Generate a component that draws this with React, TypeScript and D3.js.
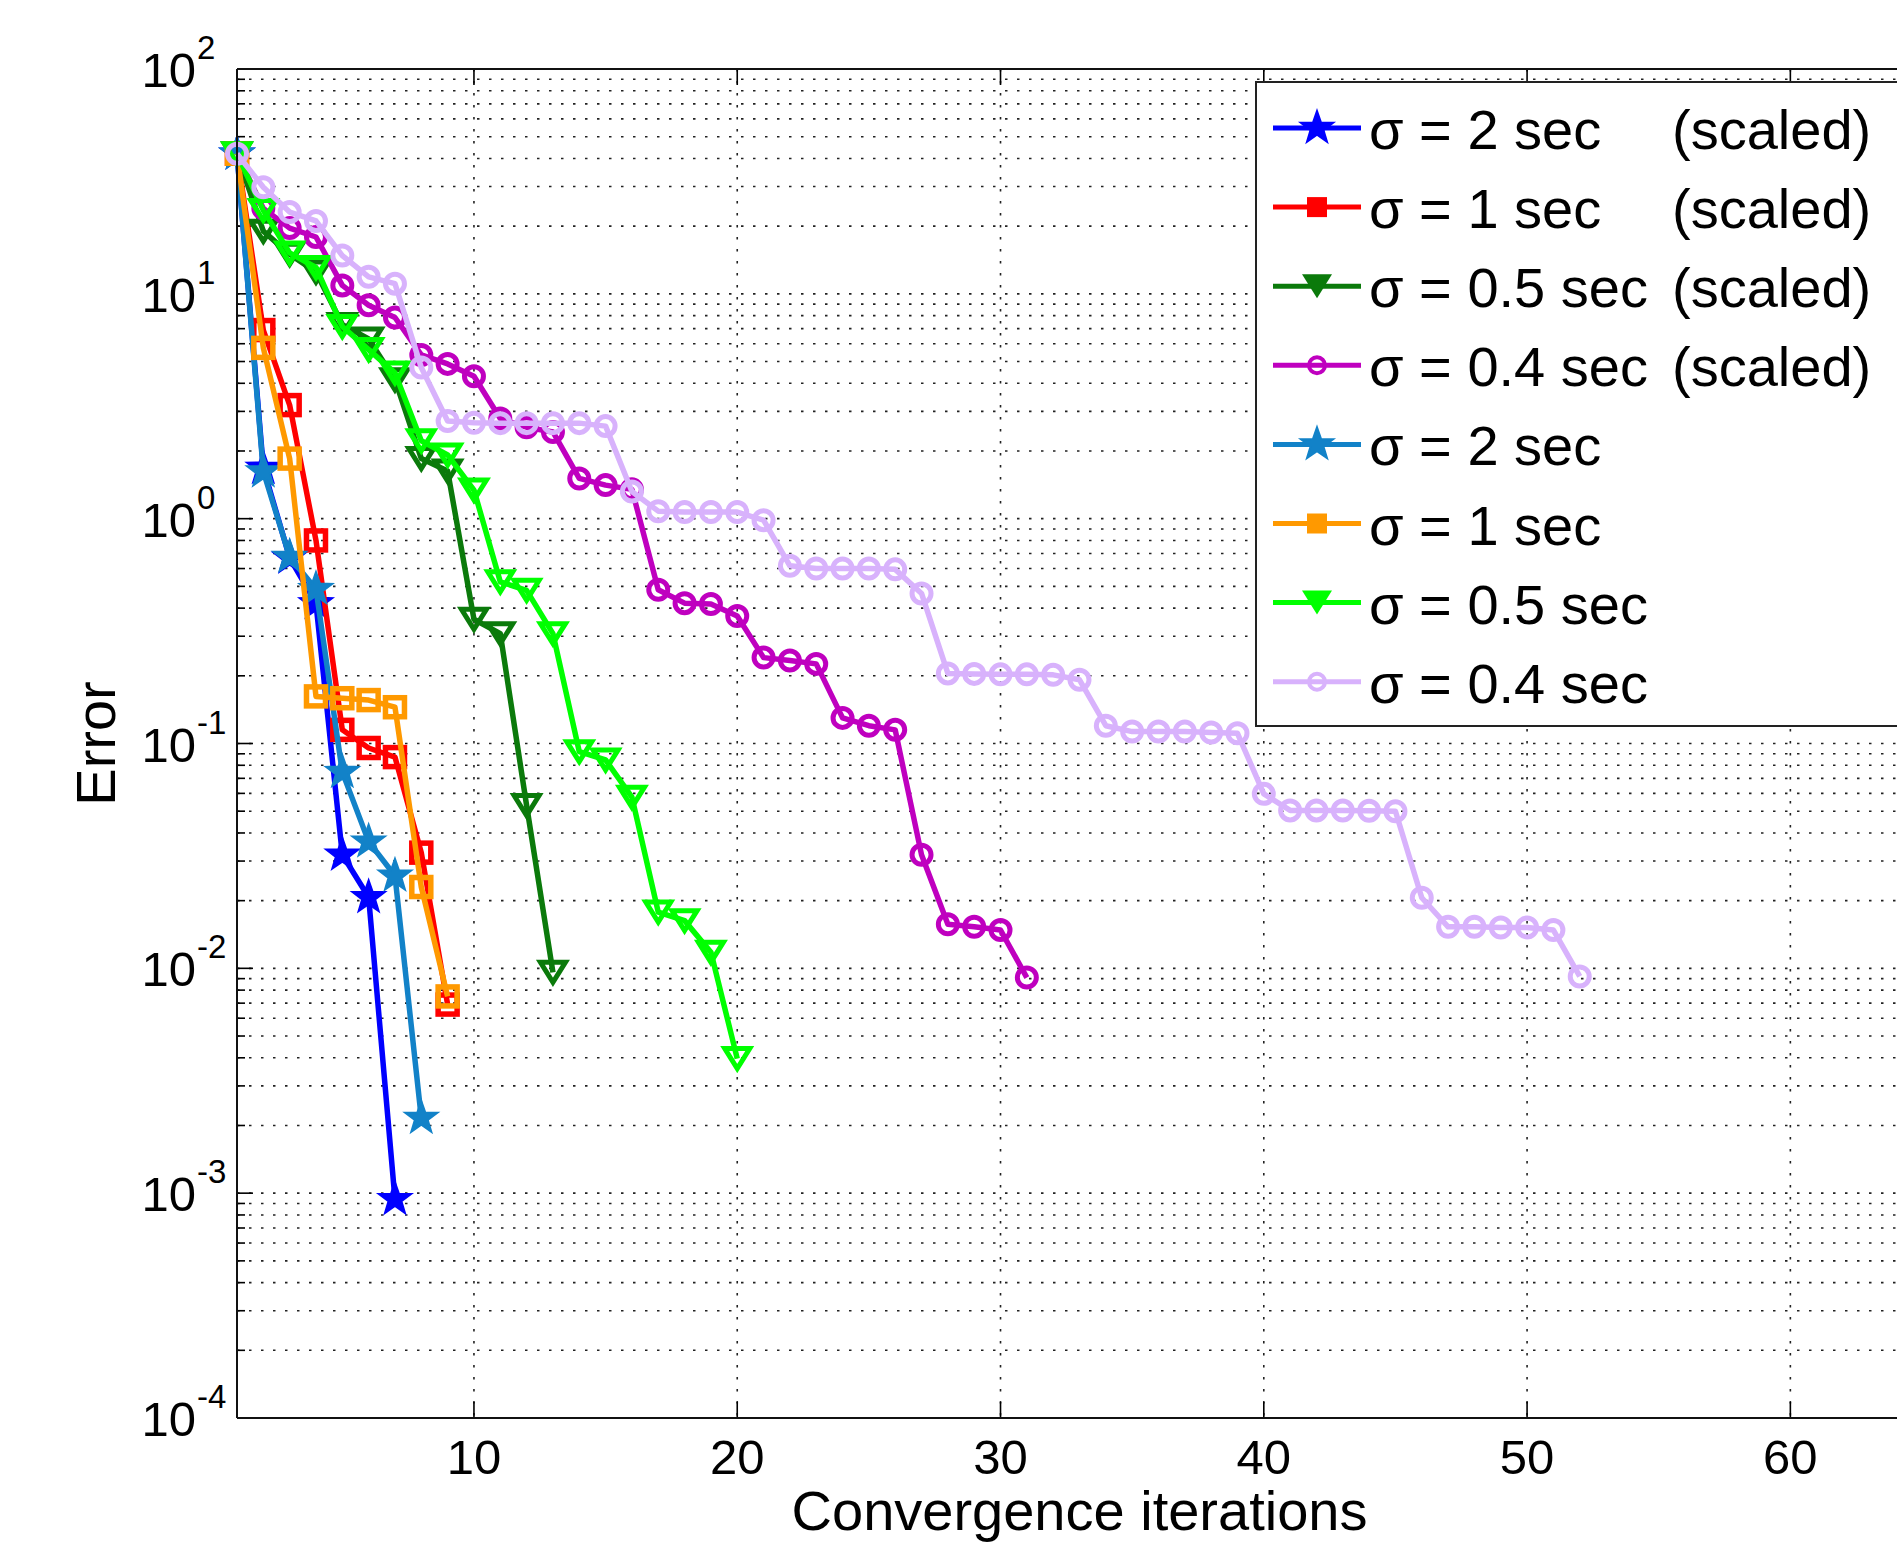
import React from "react";
import * as d3 from "d3";

// error per convergence iteration (iteration 1..n)
const blueScaled = [42, 1.68, 0.67, 0.42, 0.032, 0.0207, 0.00094];
const redScaled = [42, 6.9, 3.2, 0.8, 0.115, 0.0955, 0.087, 0.0327, 0.0069];
const darkGreenScaled = [42, 19, 15, 12.5, 7.3, 6.3, 4.15, 1.85, 1.63, 0.357, 0.308, 0.053, 0.0096];
const purpleScaled = [
  42, 24, 19.6, 17.9, 10.9, 8.9, 7.85, 5.35, 4.88, 4.3, 2.79, 2.55, 2.43, 1.51, 1.41, 1.35,
  0.483, 0.421, 0.417, 0.369, 0.241, 0.234, 0.226, 0.13, 0.12, 0.115, 0.032, 0.0157, 0.0153,
  0.0148, 0.0091,
];
const steelBlue = [42, 1.62, 0.676, 0.486, 0.0746, 0.0366, 0.0258, 0.00216];
const orange = [42, 5.75, 1.85, 0.162, 0.159, 0.156, 0.145, 0.023, 0.0075];
const lightGreen = [
  42, 23.5, 15.2, 13.1, 7.16, 5.65, 4.45, 2.22, 1.92, 1.34, 0.524, 0.48, 0.308, 0.092, 0.0845,
  0.0577, 0.0178, 0.0163, 0.0118, 0.00397,
];
const lavender = [
  42, 29.8, 23.1, 21.1, 14.8, 11.9, 11.1, 4.7, 2.72, 2.67, 2.66, 2.66, 2.66, 2.66, 2.58, 1.32,
  1.08, 1.07, 1.07, 1.07, 0.985, 0.617, 0.6, 0.6, 0.6, 0.595, 0.465, 0.205, 0.204, 0.203, 0.203,
  0.202, 0.192, 0.12, 0.113, 0.113, 0.113, 0.112, 0.111, 0.0597, 0.0504, 0.0504, 0.0503, 0.0502,
  0.05, 0.0206, 0.0153, 0.0153, 0.0152, 0.0152, 0.0148, 0.0092,
];

const seriesNames = [
  "σ = 2 sec",
  "σ = 1 sec",
  "σ = 0.5 sec",
  "σ = 0.4 sec",
  "σ = 2 sec",
  "σ = 1 sec",
  "σ = 0.5 sec",
  "σ = 0.4 sec",
];
const scaledFlags = [true, true, true, true, false, false, false, false];
const seriesValues = [blueScaled, redScaled, darkGreenScaled, purpleScaled, steelBlue, orange, lightGreen, lavender];
const seriesColors = ["#0000ff", "#ff0000", "#0b7a0b", "#bf00bf", "#1282c8", "#ff9900", "#00ff00", "#d8b2fc"];
const seriesMarkers = ["star", "square", "tri", "circle", "star", "square", "tri", "circle"];

const xDomain = [1, 65];
const yDomain = [1e-4, 1e2];

const W = 1897;
const H = 1543;
const FONT = "'Liberation Sans', Arial, Helvetica, sans-serif";

const starPath = (R: number) => {
  const r = R * 0.4;
  const pts: string[] = [];
  for (let i = 0; i < 10; i++) {
    const a = -Math.PI / 2 + (i * Math.PI) / 5;
    const rad = i % 2 === 0 ? R : r;
    pts.push(`${(rad * Math.cos(a)).toFixed(2)},${(rad * Math.sin(a)).toFixed(2)}`);
  }
  return "M" + pts.join("L") + "Z";
};

const Marker = ({ kind, color, legend }: { kind: string; color: string; legend?: boolean }) => {
  if (kind === "star") {
    return <path d={starPath(legend ? 17 : 17)} fill={color} stroke={color} strokeWidth={2} strokeLinejoin="miter" />;
  }
  if (kind === "square") {
    const s = legend ? 20 : 19;
    return legend ? (
      <rect x={-s / 2} y={-s / 2} width={s} height={s} fill={color} />
    ) : (
      <rect x={-s / 2} y={-s / 2} width={s} height={s} fill="none" stroke={color} strokeWidth={5.5} />
    );
  }
  if (kind === "tri") {
    const w = legend ? 30 : 25;
    const h = w * 0.8;
    const d = `M${-w / 2},${-h / 2}L${w / 2},${-h / 2}L0,${h / 2}Z`;
    return legend ? (
      <path d={d} fill={color} />
    ) : (
      <path d={d} fill="none" stroke={color} strokeWidth={5} strokeLinejoin="miter" />
    );
  }
  return <circle r={legend ? 8 : 9.5} fill="none" stroke={color} strokeWidth={legend ? 4 : 5} />;
};

export default function App() {
  const left = 237;
  const top = 69;
  const bottom = 1418;
  const right = 1922;

  const x = d3.scaleLinear().domain(xDomain).range([left, right]);
  const y = d3.scaleLog().domain(yDomain).range([bottom, top]);

  const yTicks = y.ticks();
  const yMajor = yTicks.filter((v) => Math.abs(Math.log10(v) - Math.round(Math.log10(v))) < 1e-9);
  const yMinor = yTicks.filter((v) => !yMajor.includes(v));
  const xTicks = x.ticks(6);

  const line = d3
    .line<number>()
    .x((_, i) => x(i + 1))
    .y((v) => y(v));

  const legendLeft = 1256;
  const legendTop = 82;
  const legendBottom = 726;
  const rowStart = 128;
  const rowStep = 79.1;

  return (
    <svg
      width={W}
      height={H}
      style={{ position: "absolute", left: 0, top: 0, background: "#fff" }}
      fontFamily={FONT}
    >
      <rect width={W} height={H} fill="#fff" />

      {/* grid */}
      <g stroke="#222" strokeWidth={1.6} strokeDasharray="2.5 9.5">
        {yTicks.map((v) => (
          <line key={"gy" + v} x1={left} x2={right} y1={y(v)} y2={y(v)} />
        ))}
        {xTicks.map((v) => (
          <line key={"gx" + v} x1={x(v)} x2={x(v)} y1={top} y2={bottom} />
        ))}
      </g>

      {/* ticks */}
      <g stroke="#000" strokeWidth={1.6}>
        {yMajor.map((v) => (
          <line key={"ty" + v} x1={left} x2={left + 16} y1={y(v)} y2={y(v)} />
        ))}
        {yMinor.map((v) => (
          <line key={"tym" + v} x1={left} x2={left + 8} y1={y(v)} y2={y(v)} />
        ))}
        {xTicks.map((v) => (
          <g key={"tx" + v}>
            <line x1={x(v)} x2={x(v)} y1={bottom} y2={bottom - 16} />
            <line x1={x(v)} x2={x(v)} y1={top} y2={top + 16} />
          </g>
        ))}
      </g>

      {/* series */}
      {seriesValues.map((vals, si) => (
        <g key={"s" + si}>
          <path d={line(vals) || ""} fill="none" stroke={seriesColors[si]} strokeWidth={5.5} strokeLinejoin="round" />
          {vals.map((v, i) => (
            <g key={i} transform={`translate(${x(i + 1)},${y(v)})`}>
              <Marker kind={seriesMarkers[si]} color={seriesColors[si]} />
            </g>
          ))}
        </g>
      ))}

      {/* axes box */}
      <g stroke="#111" strokeWidth={2} fill="none">
        <line x1={left} x2={left} y1={top} y2={bottom} />
        <line x1={left} x2={right} y1={top} y2={top} />
        <line x1={left} x2={right} y1={bottom} y2={bottom} />
      </g>

      {/* y tick labels */}
      {yMajor.map((v) => {
        const e = Math.round(Math.log10(v));
        return (
          <g key={"ly" + v}>
            <text x={196} y={y(v) + 18} fontSize={49} textAnchor="end" fill="#000">
              10
            </text>
            <text x={197} y={y(v) - 10} fontSize={33} fill="#000">
              {e}
            </text>
          </g>
        );
      })}

      {/* x tick labels */}
      {xTicks.map((v) => (
        <text key={"lx" + v} x={x(v)} y={1474} fontSize={49} textAnchor="middle" fill="#000">
          {v}
        </text>
      ))}

      <text x={(left + right) / 2} y={1530} fontSize={56} textAnchor="middle" fill="#000">
        Convergence iterations
      </text>
      <text transform={`translate(115,${(top + bottom) / 2}) rotate(-90)`} fontSize={56} textAnchor="middle" fill="#000">
        Error
      </text>

      {/* legend */}
      <rect x={legendLeft} y={legendTop} width={W} height={legendBottom - legendTop} fill="#fff" stroke="#222" strokeWidth={2} />
      {seriesNames.map((name, i) => {
        const ry = rowStart + i * rowStep;
        return (
          <g key={"lg" + i}>
            <line x1={1273} x2={1361} y1={ry} y2={ry} stroke={seriesColors[i]} strokeWidth={5} />
            <g transform={`translate(1317,${ry})`}>
              <Marker kind={seriesMarkers[i]} color={seriesColors[i]} legend />
            </g>
            <text x={1369} y={ry + 21} fontSize={56} fill="#000">
              {name}
            </text>
            {scaledFlags[i] && (
              <text x={1672} y={ry + 21} fontSize={56} fill="#000">
                (scaled)
              </text>
            )}
          </g>
        );
      })}
    </svg>
  );
}
